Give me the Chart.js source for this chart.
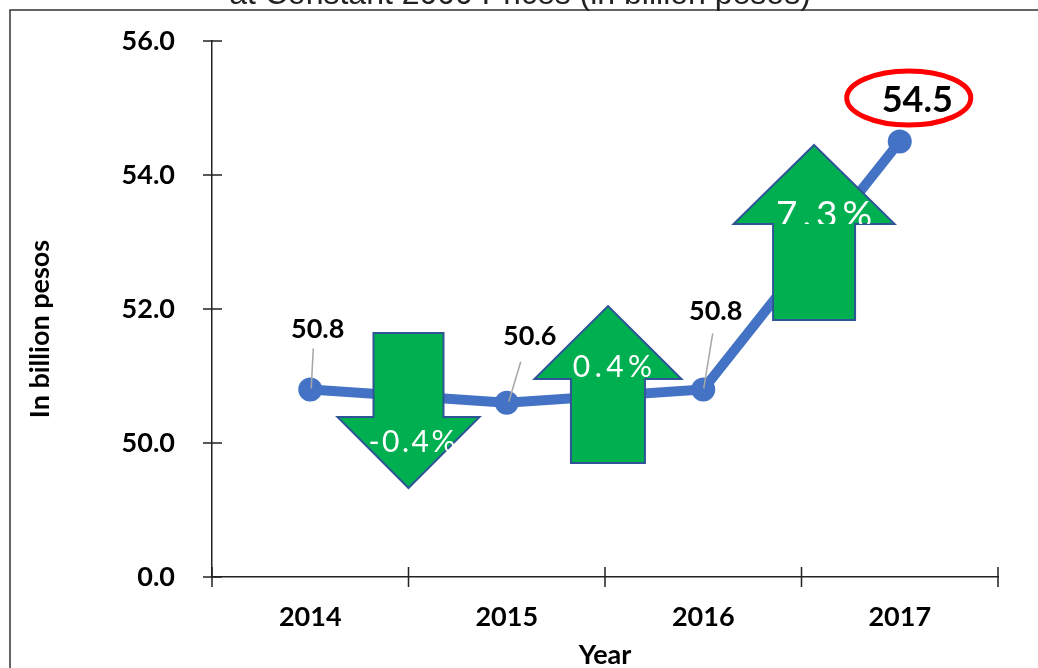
<!DOCTYPE html>
<html>
<head>
<meta charset="utf-8">
<script src="https://cdn.jsdelivr.net/npm/chart.js@4/dist/chart.umd.min.js"></script>
<style>
  html, body { margin: 0; padding: 0; background: #ffffff; }
  #wrap { width: 1038px; height: 668px; }
</style>
</head>
<body>
<div id="wrap"><canvas id="line_gdp" width="1038" height="668"></canvas></div>
<script>

// data
const years = ["2014", "2015", "2016", "2017"];
const gdpValues = [50.8, 50.6, 50.8, 54.5];
const yTickValues = [0, 50, 52, 54, 56];
const changeLabels = ["-0.4%", "0.4%", "7.3%"];

const FONT = 'Lato, "Liberation Sans", sans-serif';
const BLUE = "#4472C4";

// broken axis: 0 -> 50 takes one step, then one step per 2 units
function toAxis(v) {
    return v <= 50 ? v / 50 : 1 + (v - 50) / 2;
}

// arrow shapes, in category index / axis units (y) and pixels (widths)
const arrowShapes = [
    { x: 0.5, tip: 0.664, shoulder: 1.194, end: 1.82, head: 71, shaft: 35, size: 30, spacing: 2.5, dx: 3.5, base: 0.933 },
    { x: 1.515, tip: 2.022, shoulder: 1.478, end: 0.851, head: 73.5, shaft: 37, size: 30, spacing: 4.5, dx: 4.5, base: 1.493 },
    { x: 2.564, tip: 3.224, shoulder: 2.634, end: 1.918, head: 80.5, shaft: 41, size: 37, spacing: 5, dx: 10, base: 2.612 }
];

// label placement relative to each point (pixels)
const labelOffsets = [
    { dx: 7.5, dy: -60, size: 27, lead: [3, -41, 1, -1] },
    { dx: 23, dy: -67, size: 27, lead: [14, -41, 2, -1] },
    { dx: 12.5, dy: -78, size: 27, lead: [9.5, -56, 0.5, -1] },
    { dx: 17.5, dy: -41, size: 36, ring: { dx: 9, dy: -43.5, rx: 62, ry: 27 } }
];

function drawArrow(ctx, cx, tipY, shoulderY, endY, head, shaft) {
    ctx.beginPath();
    ctx.moveTo(cx, tipY);
    ctx.lineTo(cx + head, shoulderY);
    ctx.lineTo(cx + shaft, shoulderY);
    ctx.lineTo(cx + shaft, endY);
    ctx.lineTo(cx - shaft, endY);
    ctx.lineTo(cx - shaft, shoulderY);
    ctx.lineTo(cx - head, shoulderY);
    ctx.closePath();
    ctx.fillStyle = "#00B050";
    ctx.fill();
    ctx.lineWidth = 2;
    ctx.strokeStyle = "#2F5597";
    ctx.stroke();
}

const overlayPlugin = {
    id: "overlay",
    beforeDraw(chart) {
        const ctx = chart.ctx;
        ctx.save();
        // outer frame
        ctx.strokeStyle = "#333333";
        ctx.lineWidth = 1.5;
        ctx.beginPath();
        ctx.moveTo(10, 668);
        ctx.lineTo(10, 10);
        ctx.lineTo(1038, 10);
        ctx.stroke();
        // title, cut off at the top edge
        ctx.fillStyle = "#222222";
        ctx.font = '32px "Liberation Sans", Arial, sans-serif';
        ctx.textAlign = "center";
        ctx.textBaseline = "alphabetic";
        ctx.fillText("at Constant 2000 Prices (in billion pesos)", 520, 4);
        ctx.restore();
    },
    afterDatasetsDraw(chart) {
        const ctx = chart.ctx;
        const xs = chart.scales.x;
        const ys = chart.scales.y;
        const pts = chart.getDatasetMeta(0).data;
        ctx.save();

        // crossing tick marks
        ctx.strokeStyle = "#222222";
        ctx.lineWidth = 1.5;
        ctx.beginPath();
        yTickValues.forEach(v => {
            const py = ys.getPixelForValue(toAxis(v));
            ctx.moveTo(ys.right - 9, py);
            ctx.lineTo(ys.right + 10, py);
        });
        for (let i = 0; i <= years.length; i++) {
            const px = xs.getPixelForValue(i - 0.5);
            ctx.moveTo(px, xs.top - 10);
            ctx.lineTo(px, xs.top + 10);
        }
        ctx.stroke();

        // leader lines
        ctx.strokeStyle = "#A6A6A6";
        ctx.lineWidth = 1.5;
        labelOffsets.forEach((o, i) => {
            if (!o.lead) return;
            const p = pts[i];
            ctx.beginPath();
            ctx.moveTo(p.x + o.lead[0], p.y + o.lead[1]);
            ctx.lineTo(p.x + o.lead[2], p.y + o.lead[3]);
            ctx.stroke();
        });

        // green arrows with change labels
        arrowShapes.forEach((a, i) => {
            const cx = xs.getPixelForValue(a.x);
            const tipY = ys.getPixelForValue(a.tip);
            const shY = ys.getPixelForValue(a.shoulder);
            const endY = ys.getPixelForValue(a.end);
            drawArrow(ctx, cx, tipY, shY, endY, a.head, a.shaft);

            ctx.save();
            ctx.beginPath();
            ctx.rect(cx - a.head, Math.min(tipY, shY), a.head * 2, Math.abs(shY - tipY));
            ctx.clip();
            ctx.fillStyle = "#ffffff";
            ctx.font = a.size + "px " + FONT;
            ctx.letterSpacing = a.spacing + "px";
            ctx.textAlign = "left";
            ctx.textBaseline = "alphabetic";
            const w = ctx.measureText(changeLabels[i]).width - a.spacing;
            ctx.fillText(changeLabels[i], cx + a.dx - w / 2, ys.getPixelForValue(a.base));
            ctx.restore();
        });

        // value labels
        ctx.fillStyle = "#000000";
        ctx.textAlign = "center";
        ctx.textBaseline = "middle";
        labelOffsets.forEach((o, i) => {
            const p = pts[i];
            if (o.ring) {
                ctx.beginPath();
                ctx.ellipse(p.x + o.ring.dx, p.y + o.ring.dy, o.ring.rx, o.ring.ry, 0, 0, Math.PI * 2);
                ctx.lineWidth = 5;
                ctx.strokeStyle = "#FF0000";
                ctx.stroke();
            }
            ctx.font = "bold " + o.size + "px " + FONT;
            ctx.fillText(gdpValues[i].toFixed(1), p.x + o.dx, p.y + o.dy);
        });

        // y axis title
        ctx.translate(40, 329);
        ctx.rotate(-Math.PI / 2);
        ctx.font = "bold 27px " + FONT;
        ctx.fillText("In billion pesos", 0, 0);
        ctx.restore();
    }
};

const config_gdp = {
    type: "line",
    data: {
        labels: years,
        datasets: [
            {
                label: "GDP",
                data: gdpValues.map(toAxis),
                borderColor: BLUE,
                borderWidth: 10,
                backgroundColor: BLUE,
                pointBackgroundColor: BLUE,
                pointBorderWidth: 0,
                pointRadius: 12,
                tension: 0,
                fill: false
            }
        ]
    },
    options: {
        responsive: false,
        animation: false,
        layout: { padding: { top: 41, right: 40, left: 0, bottom: 0 } },
        plugins: {
            legend: { display: false },
            tooltip: { enabled: false }
        },
        scales: {
            x: {
                offset: true,
                grid: { display: false, drawTicks: false },
                border: { display: true, color: "#222222", width: 1.5 },
                ticks: { color: "#000000", font: { family: FONT, size: 27, weight: "bold" }, padding: 24 },
                title: {
                    display: true,
                    text: "Year",
                    color: "#000000",
                    font: { family: FONT, size: 27, weight: "bold" },
                    padding: { top: 0, bottom: -3 }
                },
                afterFit(scale) { scale.height = 91; }
            },
            y: {
                min: 0,
                max: 4,
                grid: { display: false, drawTicks: false },
                border: { display: true, color: "#222222", width: 1.5 },
                ticks: {
                    stepSize: 1,
                    padding: 37,
                    color: "#000000",
                    font: { family: FONT, size: 27, weight: "bold" },
                    callback: (value) => {
                        const idx = yTickValues.findIndex(v => Math.abs(toAxis(v) - value) < 1e-6);
                        return idx >= 0 ? yTickValues[idx].toFixed(1) : "";
                    }
                },
                afterFit(scale) {
                    scale.width = 212;
                    scale.paddingTop = 0;
                    scale.paddingBottom = 0;
                }
            }
        }
    },
    plugins: [overlayPlugin]
};

const ctx_gdp = document.getElementById("line_gdp").getContext("2d");

const myChart_gdp = new Chart(ctx_gdp, config_gdp);
</script>
</body>
</html>
